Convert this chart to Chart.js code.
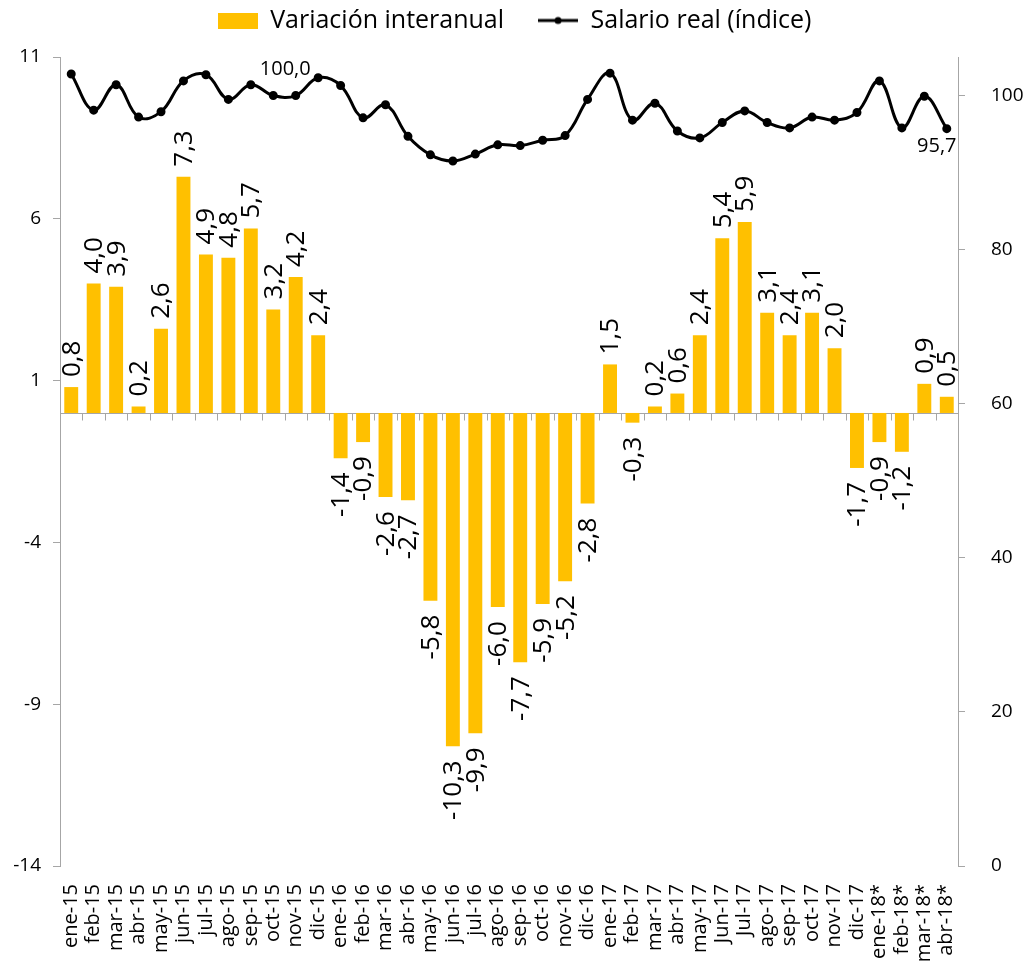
<!DOCTYPE html>
<html lang="es">
<head>
<meta charset="utf-8" />
<title>Variación interanual y salario real</title>
<script src="https://cdn.jsdelivr.net/npm/chart.js"></script>
<style>
  body { margin: 0; background: #fff; }
  canvas { display: block; }
</style>
</head>
<body>
<canvas id="chart" width="1029" height="966"></canvas>
<script>
// meses
var months = ['ene-15','feb-15','mar-15','abr-15','may-15','jun-15','jul-15','ago-15','sep-15','oct-15','nov-15','dic-15',
              'ene-16','feb-16','mar-16','abr-16','may-16','jun-16','jul-16','ago-16','sep-16','oct-16','nov-16','dic-16',
              'ene-17','feb-17','mar-17','abr-17','may-17','Jun-17','Jul-17','ago-17','sep-17','oct-17','nov-17','dic-17',
              'ene-18*','feb-18*','mar-18*','abr-18*'];

// variación interanual (%)
var variacion = [0.8, 4.0, 3.9, 0.2, 2.6, 7.3, 4.9, 4.8, 5.7, 3.2, 4.2, 2.4,
                 -1.4, -0.9, -2.6, -2.7, -5.8, -10.3, -9.9, -6.0, -7.7, -5.9, -5.2, -2.8,
                 1.5, -0.3, 0.2, 0.6, 2.4, 5.4, 5.9, 3.1, 2.4, 3.1, 2.0, -1.7,
                 -0.9, -1.2, 0.9, 0.5];

// salario real (índice)
var salario = [102.8, 98.1, 101.4, 97.2, 97.9, 101.9, 102.7, 99.5, 101.4, 100.0, 100.0, 102.3,
               101.3, 97.1, 98.8, 94.7, 92.3, 91.5, 92.4, 93.6, 93.5, 94.2, 94.8, 99.5,
               102.9, 96.8, 99.0, 95.4, 94.5, 96.5, 98.0, 96.5, 95.8, 97.2, 96.8, 97.8,
               101.9, 95.8, 99.9, 95.7];

var leftTicks = [-14, -9, -4, 1, 6, 11];
var rightTicks = [0, 20, 40, 60, 80, 100];
var lineLabelIdx = [9, 39];

var gold = '#FFC000';
var axisGray = '#A6A6A6';
var fontFam = "'Open Sans', sans-serif";

function fmt(v) { return v.toFixed(1).replace('.', ','); }

// legend symbols
var boxImg = document.createElement('canvas');
boxImg.width = 40; boxImg.height = 16;
(function () { var c = boxImg.getContext('2d'); c.fillStyle = gold; c.fillRect(0, 0, 40, 16); })();
var lineImg = document.createElement('canvas');
lineImg.width = 40; lineImg.height = 16;
(function () {
  var c = lineImg.getContext('2d');
  c.strokeStyle = '#000'; c.lineWidth = 3;
  c.beginPath(); c.moveTo(0, 8); c.lineTo(40, 8); c.stroke();
  c.fillStyle = '#000'; c.beginPath(); c.arc(20, 8, 3.5, 0, Math.PI * 2); c.fill();
})();

var fixLayout = {
  id: 'fixLayout',
  beforeInit: function (chart) {
    var fit = chart.legend.fit;
    chart.legend.fit = function () { fit.call(this); this.height = 57; };
  }
};

var zeroLine = {
  id: 'zeroLine',
  beforeDatasetsDraw: function (chart) {
    var ctx = chart.ctx, a = chart.chartArea;
    var y0 = Math.round(chart.scales.y.getPixelForValue(0)) + 0.5;
    var n = months.length, w = (a.right - a.left) / n;
    ctx.save();
    ctx.strokeStyle = axisGray; ctx.lineWidth = 1;
    ctx.beginPath();
    ctx.moveTo(a.left, y0); ctx.lineTo(a.right, y0);
    for (var i = 1; i < n; i++) {
      var x = Math.round(a.left + i * w) + 0.5;
      ctx.moveTo(x, y0); ctx.lineTo(x, y0 + 7);
    }
    ctx.stroke();
    ctx.restore();
  }
};

var valueLabels = {
  id: 'valueLabels',
  afterDatasetsDraw: function (chart) {
    var ctx = chart.ctx;
    var bars = chart.getDatasetMeta(0).data;
    ctx.save();
    ctx.fillStyle = '#000';
    ctx.font = '26px ' + fontFam;
    ctx.textBaseline = 'middle';
    bars.forEach(function (el, i) {
      var v = variacion[i];
      ctx.save();
      if (v >= 0) {
        ctx.translate(el.x + 1, el.y - 10);
        ctx.rotate(-Math.PI / 2);
        ctx.textAlign = 'left';
      } else {
        ctx.translate(el.x + 1, el.y + 14);
        ctx.rotate(-Math.PI / 2);
        ctx.textAlign = 'right';
      }
      ctx.fillText(fmt(v), 0, 0);
      ctx.restore();
    });
    var pts = chart.getDatasetMeta(1).data;
    ctx.font = '20px ' + fontFam;
    ctx.textAlign = 'center';
    var p = pts[lineLabelIdx[0]];
    ctx.fillText(fmt(salario[lineLabelIdx[0]]), p.x + 12, p.y - 26);
    p = pts[lineLabelIdx[1]];
    ctx.fillText(fmt(salario[lineLabelIdx[1]]), p.x - 10, p.y + 18);
    ctx.restore();
  }
};

new Chart(document.getElementById('chart'), {
  data: {
    labels: months,
    datasets: [
      {
        type: 'bar',
        label: 'Variación interanual',
        data: variacion,
        backgroundColor: gold,
        yAxisID: 'y',
        barPercentage: 0.62,
        categoryPercentage: 1,
        order: 1
      },
      {
        type: 'line',
        label: 'Salario real (índice)',
        data: salario,
        yAxisID: 'y1',
        borderColor: '#000',
        backgroundColor: '#000',
        borderWidth: 3,
        pointRadius: 3,
        pointBackgroundColor: '#000',
        tension: 0.4,
        order: 0
      }
    ]
  },
  options: {
    responsive: false,
    animation: false,
    layout: { padding: 0 },
    plugins: {
      legend: {
        position: 'top',
        labels: {
          usePointStyle: true,
          pointStyleWidth: 40,
          padding: 8,
          color: '#000',
          font: { family: fontFam, size: 25 },
          generateLabels: function () {
            return [
              // trailing spaces widen the gap between the two entries
              { text: 'Variación interanual    ', pointStyle: boxImg, fillStyle: gold, strokeStyle: gold, lineWidth: 0, datasetIndex: 0, fontColor: '#000' },
              { text: 'Salario real (índice)', pointStyle: lineImg, fillStyle: '#000', strokeStyle: '#000', lineWidth: 0, datasetIndex: 1, fontColor: '#000' }
            ];
          }
        }
      },
      tooltip: { enabled: false }
    },
    scales: {
      x: {
        grid: { display: false, drawTicks: false },
        border: { display: false },
        ticks: {
          color: '#000',
          font: { family: fontFam, size: 20 },
          minRotation: 90,
          maxRotation: 90,
          autoSkip: false,
          padding: 18
        },
        afterFit: function (s) { s.height = 100; }
      },
      y: {
        position: 'left',
        min: -14,
        max: 11,
        afterBuildTicks: function (s) { s.ticks = leftTicks.map(function (v) { return { value: v }; }); },
        grid: { drawOnChartArea: false, drawTicks: true, tickLength: 7, color: axisGray },
        border: { display: true, color: axisGray },
        ticks: { color: '#000', font: { family: fontFam, size: 19 }, padding: 12 },
        afterFit: function (s) { s.width = 60; }
      },
      y1: {
        position: 'right',
        min: 0,
        max: 105,
        afterBuildTicks: function (s) { s.ticks = rightTicks.map(function (v) { return { value: v }; }); },
        grid: { drawOnChartArea: false, drawTicks: true, tickLength: 7, color: axisGray },
        border: { display: true, color: axisGray },
        ticks: { color: '#000', font: { family: fontFam, size: 19 }, padding: 26 },
        afterFit: function (s) { s.width = 71; }
      }
    }
  },
  plugins: [fixLayout, zeroLine, valueLabels]
});
</script>
</body>
</html>
